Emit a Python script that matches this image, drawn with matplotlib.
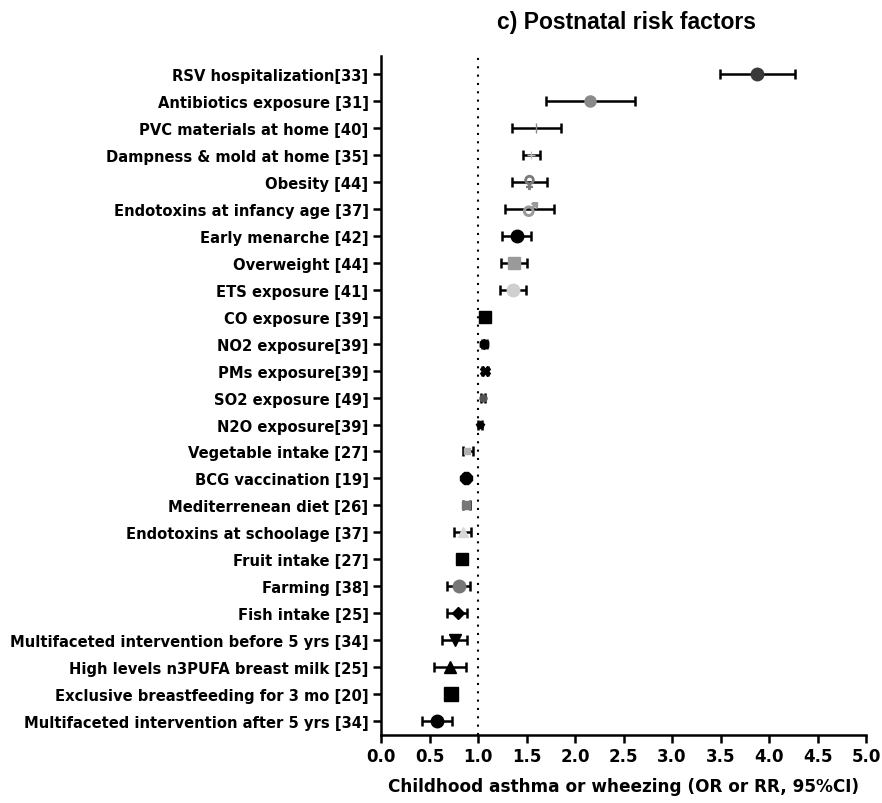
import matplotlib
matplotlib.use("Agg")
import matplotlib.pyplot as plt

factors = [
    "RSV hospitalization[33]",
    "Antibiotics exposure [31]",
    "PVC materials at home [40]",
    "Dampness & mold at home [35]",
    "Obesity [44]",
    "Endotoxins at infancy age [37]",
    "Early menarche [42]",
    "Overweight [44]",
    "ETS exposure [41]",
    "CO exposure [39]",
    "NO2 exposure[39]",
    "PMs exposure[39]",
    "SO2 exposure [49]",
    "N2O exposure[39]",
    "Vegetable intake [27]",
    "BCG vaccination [19]",
    "Mediterrenean diet [26]",
    "Endotoxins at schoolage [37]",
    "Fruit intake [27]",
    "Farming [38]",
    "Fish intake [25]",
    "Multifaceted intervention before 5 yrs [34]",
    "High levels n3PUFA breast milk [25]",
    "Exclusive breastfeeding for 3 mo [20]",
    "Multifaceted intervention after 5 yrs [34]",
]
estimate = [3.88, 2.15, 1.60, 1.55, 1.53, 1.54, 1.40, 1.37, 1.36, 1.07, 1.065, 1.07, 1.05, 1.02,
            0.89, 0.875, 0.88, 0.84, 0.83, 0.80, 0.79, 0.76, 0.71, 0.72, 0.58]
ci_low = [3.49, 1.70, 1.35, 1.46, 1.35, 1.28, 1.25, 1.24, 1.23, 1.03, 1.04, 1.04, 1.03, 1.00,
          0.84, 0.84, 0.84, 0.75, 0.80, 0.68, 0.68, 0.63, 0.55, 0.69, 0.42]
ci_high = [4.27, 2.62, 1.86, 1.64, 1.71, 1.78, 1.55, 1.50, 1.49, 1.11, 1.09, 1.10, 1.07, 1.04,
           0.95, 0.91, 0.92, 0.93, 0.86, 0.92, 0.89, 0.89, 0.88, 0.75, 0.735]

# marker style per row: (marker, color, size)
styles = [
    ("o", "#3a3a3a", 9), ("o", "#8a8a8a", 8), ("|", "#8a8a8a", 7), ("+", "#c0c0c0", 6),
    ("$\u2640$", "#7a7a7a", 10), ("$\u2642$", "#9a9a9a", 10), ("o", "black", 9),
    ("s", "#9a9a9a", 9), ("o", "#cfcfcf", 9), ("s", "black", 8), ("h", "black", 7),
    ("X", "black", 7), ("o", "#555555", 5), ("p", "black", 6), ("s", "#b0b0b0", 5),
    ("8", "black", 9), ("s", "#777777", 6), ("^", "#d8d8d8", 7), ("s", "black", 9),
    ("o", "#777777", 9), ("D", "black", 6), ("v", "black", 8), ("^", "black", 8),
    ("s", "black", 10), ("o", "black", 9),
]

plt.rcParams["font.family"] = ["DejaVu Sans"]
plt.rcParams["font.weight"] = "bold"

fig = plt.figure(figsize=(8.82, 8.04), dpi=100)
ax = fig.add_axes([0.432, 0.0846, 0.55, 0.8444])

ypos = list(range(len(factors)))
ax.axvline(1.0, color="black", linestyle=(0, (1, 3)), linewidth=1.5, zorder=1)

for i in ypos:
    m, c, s = styles[i]
    ax.errorbar(estimate[i], i,
                xerr=[[estimate[i] - ci_low[i]], [ci_high[i] - estimate[i]]],
                fmt="none", ecolor="black", elinewidth=1.8, capsize=3.5, capthick=1.8, zorder=2)
    ax.plot(estimate[i], i, marker=m, color=c, markersize=s, linestyle="none", zorder=3)

ax.set_xlim(0, 5)
ax.set_ylim(24.52, -0.67)
ax.set_xticks([x * 0.5 for x in range(11)])
ax.set_xticklabels([f"{x * 0.5:.1f}" for x in range(11)], fontsize=12, fontweight="bold")
ax.set_yticks(ypos)
ax.set_yticklabels(factors, fontsize=10.6, fontweight="bold")

for side in ["top", "right"]:
    ax.spines[side].set_visible(False)
for side in ["left", "bottom"]:
    ax.spines[side].set_linewidth(1.8)
ax.tick_params(axis="both", direction="out", length=6, width=1.8, pad=3)

ax.set_xlabel("Childhood asthma or wheezing (OR or RR, 95%CI)", fontsize=12.2, fontweight="bold", labelpad=8)
fig.text(0.71, 0.972, "c) Postnatal risk factors", ha="center", va="center",
         fontsize=16.5, fontweight="bold", family=["Liberation Sans", "DejaVu Sans"])

fig.savefig("out.png", dpi=100)
